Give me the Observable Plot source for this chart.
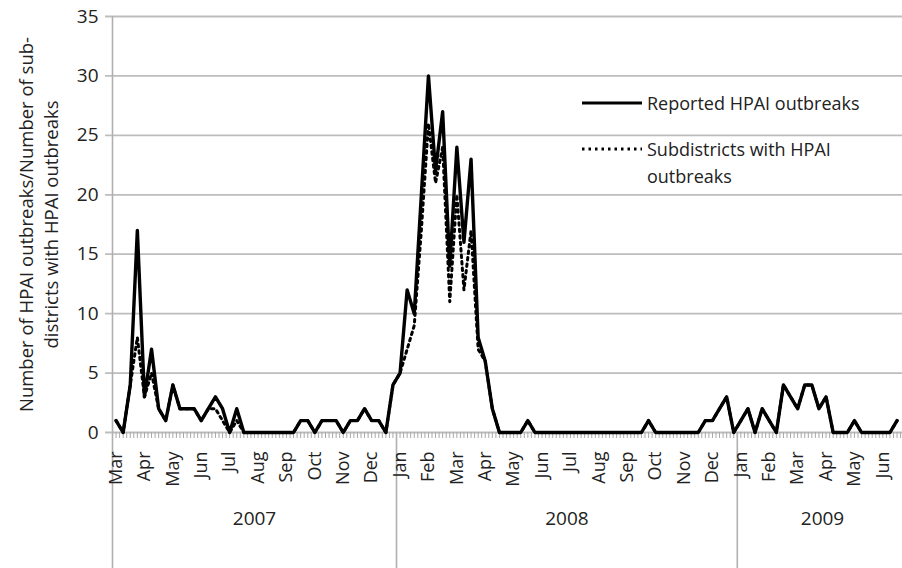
<!DOCTYPE html>
<html><head><meta charset="utf-8">
<script src="https://cdn.jsdelivr.net/npm/d3@7"></script>
<script src="https://cdn.jsdelivr.net/npm/@observablehq/plot@0.6"></script>
<style>
html,body{margin:0;padding:0;background:#fff;overflow:hidden}
#wrap{position:relative;width:902px;height:568px;font-family:"Open Sans",sans-serif;color:#262626}
.lg{position:absolute;font-size:18px;line-height:27px;white-space:nowrap;color:#222}
.lg svg{position:absolute}
</style></head><body><div id="wrap"></div>
<script>
// Weekly values (4 plotted weeks per month), Mar 2007 – Jun 2009
const reported2007 = [1,0,4,17,3,7,2,1,4,2, 2,2,1,2,3,2,0,2,0,0, 0,0,0,0,0,0,1,1,0,1, 1,1,0,1,1,2,1,1,0,4];
const reported2008 = [5,12,10,20,30,22,27,14,24,16, 23,8,6,2,0,0,0,0,1,0, 0,0,0,0,0,0,0,0,0,0, 0,0,0,0,0,1,0,0,0,0, 0,0,0,1,1,2,3,0];
const reported2009 = [1,2,0,2,1,0,4,3,2,4, 4,2,3,0,0,0,1,0,0,0, 0,0,1];
const subdistricts2007 = [1,0,4,8,3,5,2,1,4,2, 2,2,1,2,2,1,0,1,0,0, 0,0,0,0,0,0,1,1,0,1, 1,1,0,1,1,2,1,1,0,4];
const subdistricts2008 = [5,7,9,17,26,21,24,11,20,12, 17,7,6,2,0,0,0,0,1,0, 0,0,0,0,0,0,0,0,0,0, 0,0,0,0,0,1,0,0,0,0, 0,0,0,1,1,2,3,0];
const subdistricts2009 = [1,2,0,2,1,0,4,3,2,4, 4,2,3,0,0,0,1,0,0,0, 0,0,1];
const monthLabels = ["Mar","Apr","May","Jun","Jul","Aug","Sep","Oct","Nov","Dec",
  "Jan","Feb","Mar","Apr","May","Jun","Jul","Aug","Sep","Oct","Nov","Dec",
  "Jan","Feb","Mar","Apr","May","Jun"];
const yearLabels = ["2007","2008","2009"];
const weeksPerYear = [40,48,24];
const weeksPerMonth = 4;
const yTicks = [0,5,10,15,20,25,30,35];
const seriesNames = ["Reported HPAI outbreaks","Subdistricts with HPAI outbreaks"];
const yTitle = "Number of HPAI outbreaks/Number of sub-\ndistricts with HPAI outbreaks";

const reported = [...reported2007, ...reported2008, ...reported2009];
const subdistricts = [...subdistricts2007, ...subdistricts2008, ...subdistricts2009];
const data = reported.map((v, i) => ({i, reported: v, subdistricts: subdistricts[i]}));
const nCat = d3.sum(weeksPerYear);
const monthTicks = monthLabels.map((label, k) => ({label, i: k * weeksPerMonth}));
let acc = 0;
const years = yearLabels.map((label, k) => {
  const start = acc; acc += weeksPerYear[k];
  return {label, start: start - 0.5, end: acc - 0.5, mid: (start + acc) / 2 - 0.5};
});
const minorTicks = d3.range(0, 2 * nCat + 1).map(k => -0.5 + k * 0.5);

const W = 902, H = 568, ML = 112, MT = 16, MB = 136, STEP = 7.1;
const font = "Open Sans";
const ink = "#222";
const chart = Plot.plot({
  width: W, height: H,
  marginLeft: ML, marginRight: 0, marginTop: MT, marginBottom: MB,
  style: {fontFamily: font, background: "#fff", color: ink},
  x: {domain: [-0.5, nCat - 0.5], range: [ML, ML + nCat * STEP], axis: null},
  y: {domain: [0, 35], axis: null},
  marks: [
    Plot.ruleY(yTicks, {stroke: "#bdbdbd", strokeWidth: 1.8, insetLeft: -7}),
    Plot.text(yTicks, {y: d => d, frameAnchor: "left", dx: -14, textAnchor: "end", lineAnchor: "middle", text: d => String(d), fontSize: 19, fill: ink}),
    Plot.ruleX(minorTicks, {x: d => d, insetTop: H - MT - MB, insetBottom: -6, stroke: "#a8a8a8", strokeWidth: 1}),
    Plot.ruleX([years[0].start], {x: d => d, insetBottom: -MB, stroke: "#b0b0b0", strokeWidth: 1.6}),
    Plot.ruleX(years.slice(1).map(d => d.start), {x: d => d, insetTop: H - MT - MB, insetBottom: -MB, stroke: "#b0b0b0", strokeWidth: 1.6}),
    Plot.text(monthTicks, {x: "i", frameAnchor: "bottom", dy: 19, rotate: -90, textAnchor: "end", lineAnchor: "middle", text: "label", fontSize: 18, fill: ink}),
    Plot.text(years, {x: "mid", frameAnchor: "bottom", dy: 86, textAnchor: "middle", lineAnchor: "middle", text: "label", fontSize: 19, fill: ink}),
    Plot.text([yTitle], {frameAnchor: "left", dx: -75, rotate: -90, textAnchor: "middle", lineAnchor: "middle", text: d => d, fontSize: 18.5, lineHeight: 1.35, fill: ink}),
    Plot.line(data, {x: "i", y: "reported", stroke: "#000", strokeWidth: 3.4, strokeLinejoin: "round", strokeLinecap: "round"}),
    Plot.line(data, {x: "i", y: "subdistricts", stroke: "#000", strokeWidth: 3, strokeDasharray: "2.5 4", strokeLinejoin: "round"})
  ]
});
const wrap = document.getElementById("wrap");
wrap.appendChild(chart);

function legendItem(top, lines, dash) {
  const div = document.createElement("div");
  div.className = "lg";
  div.style.left = "582px";
  div.style.top = (top - 13) + "px";
  div.innerHTML = `<svg width="60" height="6" style="left:0;top:10px"><line x1="0" x2="60" y1="3" y2="3" stroke="#000" stroke-width="3" ${dash ? 'stroke-dasharray="2.5 4"' : ''}/></svg><div style="margin-left:65px">${lines.join("<br>")}</div>`;
  wrap.appendChild(div);
}
legendItem(103, [seriesNames[0]], false);
legendItem(149, ["Subdistricts with HPAI", "outbreaks"], true);
</script></body></html>
